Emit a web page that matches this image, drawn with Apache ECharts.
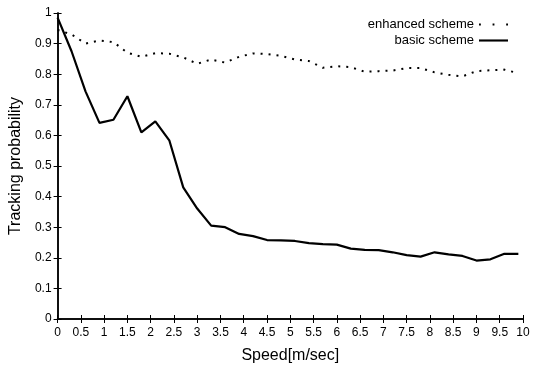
<!DOCTYPE html>
<html>
<head>
<meta charset="utf-8">
<script src="https://cdn.jsdelivr.net/npm/echarts@6/dist/echarts.min.js"></script>
<style>html,body{margin:0;padding:0;background:#fff}#c{width:534px;height:369px}</style>
</head>
<body>
<div id="c"></div>
<script>
var speeds = [0,0.3,0.6,0.9,1.2,1.5,1.8,2.1,2.4,2.7,3.0,3.3,3.6,3.9,4.2,4.5,4.8,5.1,5.4,5.7,6.0,6.3,6.6,6.9,7.2,7.5,7.8,8.1,8.4,8.7,9.0,9.3,9.6,9.9];
var enhanced = [0.945,0.93,0.90,0.91,0.905,0.87,0.857,0.869,0.867,0.855,0.834,0.848,0.838,0.857,0.868,0.866,0.86,0.848,0.843,0.821,0.826,0.823,0.808,0.81,0.812,0.82,0.82,0.806,0.798,0.793,0.81,0.813,0.815,0.803];
var basic = [0.985,0.875,0.744,0.641,0.651,0.728,0.61,0.646,0.584,0.43,0.361,0.305,0.30,0.278,0.271,0.258,0.257,0.255,0.248,0.245,0.243,0.23,0.226,0.225,0.218,0.209,0.204,0.218,0.211,0.206,0.191,0.195,0.213,0.213];
var seriesNames = ['enhanced scheme','basic scheme'];
var xName = 'Speed[m/sec]';
var yName = 'Tracking probability';

function pairs(ys){ return speeds.map(function(x,i){ return [x, ys[i]]; }); }
var font = 'Liberation Sans, Arial, Helvetica, sans-serif';
var axisCommon = {
  axisLine:{show:true,lineStyle:{color:'#000',width:1.5}},
  axisTick:{show:true,inside:true,length:4,lineStyle:{color:'#000',width:1}},
  splitLine:{show:false}
};
var chart = echarts.init(document.getElementById('c'));
chart.setOption({
  animation:false,
  backgroundColor:'#fff',
  grid:{left:57,right:11,top:13,bottom:44},
  legend:{
    orient:'vertical', right:21, top:13, itemGap:3, itemWidth:29, itemHeight:10, align:'right',
    textStyle:{fontFamily:font,fontSize:13,color:'#000',padding:[0,0,0,0]},
    data:[{name:seriesNames[0],icon:'path://M3,4h1.5v1.5h-1.5zM14,4h1.5v1.5h-1.5zM25,4h1.5v1.5h-1.5z'},{name:seriesNames[1],icon:'path://M0,4h30v2.2h-30z'}],
    itemStyle:{color:'#000'}
  },
  xAxis:[
    Object.assign({type:'value',min:0,max:10,interval:0.5,position:'bottom',
      name:xName,nameLocation:'middle',nameGap:29,
      nameTextStyle:{fontFamily:font,fontSize:16,color:'#000'},
      axisLabel:{fontFamily:font,fontSize:12,color:'#000',margin:8}},axisCommon),
    Object.assign({type:'value',min:0,max:10,interval:0.5,position:'top',axisLabel:{show:false}},axisCommon)
  ],
  yAxis:[
    Object.assign({type:'value',min:0,max:1,interval:0.1,position:'left',
      name:yName,nameLocation:'middle',nameGap:31,
      nameTextStyle:{fontFamily:font,fontSize:16,color:'#000'},
      axisLabel:{fontFamily:font,fontSize:12,color:'#000',margin:6}},axisCommon),
    Object.assign({type:'value',min:0,max:1,interval:0.1,position:'right',axisLabel:{show:false}},axisCommon)
  ],
  series:[
    {name:seriesNames[0],type:'line',data:pairs(enhanced),symbol:'none',
      lineStyle:{color:'#000',width:2,type:[2,6],cap:'butt'},itemStyle:{color:'#000'}},
    {name:seriesNames[1],type:'line',data:pairs(basic),symbol:'none',
      lineStyle:{color:'#000',width:2.2},itemStyle:{color:'#000'}}
  ]
});
</script>
</body>
</html>
